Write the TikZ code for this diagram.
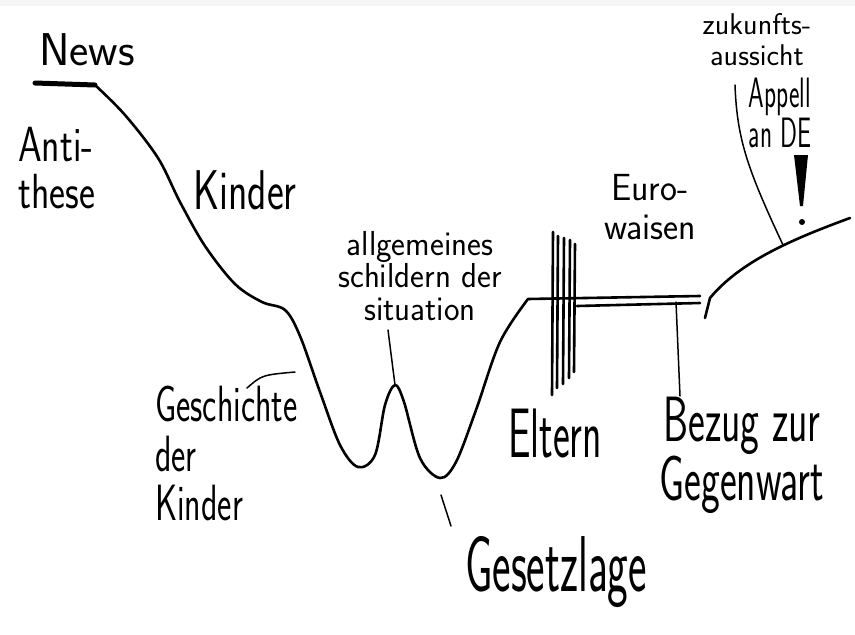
\documentclass[tikz,border=0pt]{standalone}
\usepackage{fontspec}

\tikzset{
    pen/.style={line width=2.6pt, line cap=round, line join=round},
    thinpen/.style={line width=1.5pt, line cap=round},
    hand/.style 2 args={font=\sffamily\fontsize{#1}{#2}\selectfont, inner sep=0pt, align=center}
}

\begin{document}
\begin{tikzpicture}[x=1pt, y=-1pt]
    \fill[black!4] (0,0) rectangle (855,6);
    \useasboundingbox (0,0) rectangle (855,635);
    \node[hand={46}{50}] (news) at (87,50) {News};
    \node[hand={38}{36}, align=left, yscale=1.3, anchor=west] (anti) at (18,168) {Anti-\\these};
    \node[hand={40}{44}, yscale=1.4] (kinder) at (245,190) {Kinder};
    \node[hand={33}{31}, yscale=1.05] (schildern) at (420,276) {allgemeines\\schildern der\\situation};
    \node[hand={36}{37}, yscale=1.05] (euro) at (650,207) {Euro-\\waisen};
    \node[hand={30}{31}, yscale=1.0] (zukunft) at (757,40) {zukunfts-\\aussicht};
    \node[hand={25}{18}, yscale=1.7] (appell) at (780,113) {Appell\\an DE};
    \node[hand={34}{33}, yscale=1.5, align=left, anchor=north west] (geschichte) at (155,386) {Geschichte\\der\\Kinder};
    \node[hand={40}{44}, yscale=1.75] (eltern) at (555,433) {Eltern};
    \node[hand={40}{29}, yscale=1.6] (bezug) at (742,455) {Bezug zur\\Gegenwart};
    \node[hand={44}{48}, yscale=1.8] (gesetz) at (556,572) {Gesetzlage};
    \coordinate (start) at (35,83);
    \coordinate (top) at (95,85);
    \coordinate (peak) at (395,385);
    \coordinate (tal) at (440,478);
    \coordinate (flat) at (528,299);
    \coordinate (stufe) at (705,318);
    \coordinate (ende) at (850,218);
    \coordinate (hang) at (783,245);
    \coordinate (jetzt) at (676,302);
    \draw[line width=5pt, line cap=round] (start) -- (top);
    \draw[pen] plot[smooth, tension=0.55] coordinates {(top) (125,115) (158,158) (180,202) (205,246) (235,284) (262,302) (285,310) (300,336) (320,392) (340,445) (358,467) (375,455) (385,405) (peak) (404,402) (420,458) (tal) (456,462) (476,410) (500,342) (flat)} -- (700,296);
    \draw[pen] (577,306) -- (700,303);
    \draw[pen] (stufe) -- (710,298) .. controls (740,262) and (790,240) .. (ende);
    \foreach \x/\a/\b in {553/232/395, 558/236/388, 564/238/384, 570/240/378, 575/244/372}
        \draw[pen] (\x,\a) -- (\x-1,\b);
    \coordinate (s1) at (388,330);
    \draw[thinpen] (s1) -- (peak);
    \coordinate (g1) at (441,495);
    \coordinate (g2) at (451,526);
    \draw[thinpen] (g1) -- (g2);
    \draw[thinpen] (jetzt) -- (680,396);
    \coordinate (z1) at (735,85);
    \draw[thinpen] (z1) .. controls (737,140) and (748,170) .. (hang);
    \coordinate (b1) at (247,388);
    \coordinate (b2) at (295,372);
    \draw[thinpen] (b1) .. controls (262,375) .. (b2);
    \fill (794,155) -- (808,155) -- (803,206) -- (800,206) -- cycle;
    \fill (802,222) circle (3);
\end{tikzpicture}
\end{document}
